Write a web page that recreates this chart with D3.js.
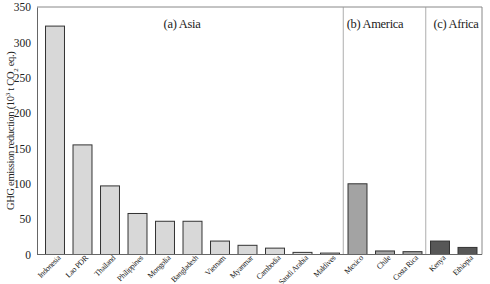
<!DOCTYPE html>
<meta charset="utf-8">
<style>
body { margin: 0; background: #fff; }
svg text { font-family: "Liberation Serif", "DejaVu Serif", serif; fill: #222; }
</style>
<svg width="490" height="284"></svg>
<script src="https://d3js.org/d3.v7.min.js"></script>
<script>

var countries = ["Indonesia", "Lao PDR", "Thailand", "Philippines", "Mongolia", "Bangladesh", "Vietnam",
                 "Myanmar", "Cambodia", "Saudi Arabia", "Maldives", "Mexico", "Chile", "Costa Rica", "Kenya", "Ethiopia"];
var regions = ["Asia", "Asia", "Asia", "Asia", "Asia", "Asia", "Asia", "Asia", "Asia", "Asia", "Asia",
               "America", "America", "America", "Africa", "Africa"];
var reduction = [323, 155, 97, 58, 47, 47, 19, 13, 9, 3, 2, 100, 5, 4, 19, 10];
var yTicks = [0, 50, 100, 150, 200, 250, 300, 350];
var panelTitles = ["(a) Asia", "(b) America", "(c) Africa"];

var svg = d3.select("svg");
var serif = "'Liberation Serif', 'DejaVu Serif', serif";

var plotLeft = 37, plotRight = 482, plotTop = 7, plotBottom = 254.5;

var x = d3.scaleBand()
    .domain(countries)
    .range([41.25, 481.25])
    .paddingInner(0.31)
    .paddingOuter(0.155);

var y = d3.scaleLinear()
    .domain([0, 350])
    .range([plotBottom, plotTop]);

var color = d3.scaleOrdinal()
    .domain(["Asia", "America", "Africa"])
    .range(["#d8d8d8", "#a3a3a3", "#575757"]);

// frame
svg.append("line").attr("x1", plotLeft).attr("x2", plotRight).attr("y1", plotTop).attr("y2", plotTop)
    .attr("stroke", "#888").attr("stroke-width", 1);
svg.append("line").attr("x1", plotRight).attr("x2", plotRight).attr("y1", plotTop).attr("y2", plotBottom)
    .attr("stroke", "#888").attr("stroke-width", 1);

// region dividers
var dividers = [countries.indexOf("Mexico"), countries.indexOf("Kenya")];
svg.selectAll(".divider")
    .data(dividers)
  .enter().append("line")
    .attr("class", "divider")
    .attr("x1", function(i) { return x(countries[i]) - x.step() * x.paddingInner() / 2 - 0.5; })
    .attr("x2", function(i) { return x(countries[i]) - x.step() * x.paddingInner() / 2 - 0.5; })
    .attr("y1", plotTop)
    .attr("y2", plotBottom)
    .attr("stroke", "#999")
    .attr("stroke-width", 0.8);

// bars
svg.selectAll(".bar")
    .data(countries)
  .enter().append("rect")
    .attr("class", "bar")
    .attr("x", function(d) { return x(d); })
    .attr("width", x.bandwidth())
    .attr("y", function(d, i) { return y(reduction[i]); })
    .attr("height", function(d, i) { return y(0) - y(reduction[i]); })
    .attr("fill", function(d, i) { return color(regions[i]); })
    .attr("stroke", "#333")
    .attr("stroke-width", 1);

// y axis
var yAxis = svg.append("g")
    .attr("transform", "translate(" + plotLeft + ",0)")
    .call(d3.axisLeft(y).tickValues(yTicks).tickSize(0).tickPadding(6));
yAxis.attr("font-family", serif);
yAxis.select(".domain").attr("stroke", "#666");
yAxis.selectAll("text").attr("font-family", serif).style("font-size", "11.5px").attr("fill", "#222");

// x axis
var xAxis = svg.append("g")
    .attr("transform", "translate(0," + plotBottom + ")")
    .call(d3.axisBottom(x).tickSize(0).tickSizeOuter(0));
xAxis.attr("font-family", serif);
xAxis.select(".domain").attr("stroke", "#666").attr("d", "M" + plotLeft + ",0H" + plotRight);
xAxis.selectAll("text")
    .attr("font-family", serif)
    .attr("fill", "#222")
    .style("font-size", "8px")
    .style("letter-spacing", "-0.3px")
    .attr("text-anchor", "end")
    .attr("dy", 0)
    .attr("y", 0)
    .attr("transform", "translate(6,4) rotate(-45)");

// y label
svg.append("text")
    .attr("font-family", serif)
    .attr("transform", "translate(14," + ((plotTop + plotBottom) / 2) + ") rotate(-90)")
    .attr("text-anchor", "middle")
    .style("font-size", "10.5px")
    .style("letter-spacing", "-0.3px")
    .html('GHG emission reduction (10<tspan baseline-shift="super" font-size="7px">3</tspan> t CO<tspan baseline-shift="sub" font-size="7px">2</tspan> eq.)');

// panel titles
var titleX = [182, 375, 456];
svg.selectAll(".title")
    .data(panelTitles)
  .enter().append("text")
    .attr("class", "title")
    .attr("font-family", serif)
    .attr("x", function(d, i) { return titleX[i]; })
    .attr("y", 28)
    .attr("text-anchor", "middle")
    .style("font-size", "12.5px")
    .style("letter-spacing", "-0.3px")
    .text(function(d) { return d; });

</script>
